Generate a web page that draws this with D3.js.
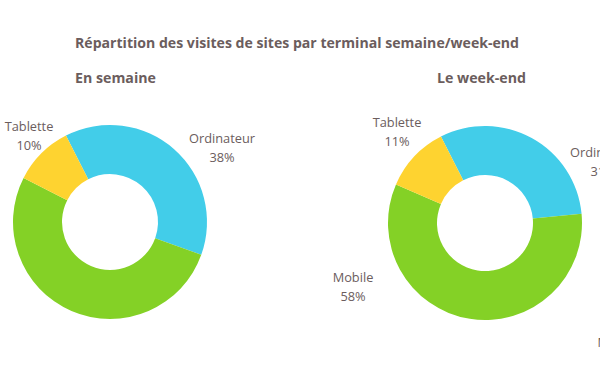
<!DOCTYPE html>
<html>
<head>
<meta charset="utf-8">
<script src="https://cdn.jsdelivr.net/npm/d3@7"></script>
<style>
  body { margin: 0; background: #fff; }
  svg { display: block; font-family: "Open Sans", sans-serif; }
</style>
</head>
<body>
<svg id="donuts" width="600" height="372"></svg>
<script>
// terminals, in the drawing order of the slices (clockwise)
var terminals = ["Ordinateur", "Mobile", "Tablette"];
var colors = ["#42cde9", "#84d126", "#fed330"];

var periods = ["En semaine", "Le week-end"];
var weekValues = [38, 52, 10];
var weekendValues = [31, 58, 11];
var seriesValues = [weekValues, weekendValues];

var title = "Répartition des visites de sites par terminal semaine/week-end";

drawDonuts();

function drawDonuts(){
  var svg = d3.select("#donuts"),
  textColor = "#6b5d5d";

  // centre of each donut and where its labels sit (offsets from the centre)
  var layout = [
    {cx: 110, cy: 222, titleX: 75,
     labels: [[112, -79], [-150, 56], [-81, -91]]},
    {cx: 485, cy: 223, titleX: 437,
     labels: [[118, -66], [-132, 59], [-88, -96]]}
  ];

  var outer = 97, inner = 48;
  var startAngle = -27 * Math.PI / 180;

  var color = d3.scaleOrdinal().domain(terminals).range(colors);

  var pie = d3.pie()
    .sort(null)
    .value(function(d) { return d.value; })
    .startAngle(startAngle)
    .endAngle(startAngle + 2 * Math.PI);

  var arc = d3.arc().innerRadius(inner).outerRadius(outer);

  svg.append("text")
    .attr("x", 75)
    .attr("y", 48)
    .attr("fill", textColor)
    .attr("font-weight", "bold")
    .attr("font-size", 14.1)
    .text(title);

  periods.forEach(function(period, i) {
    var l = layout[i];
    var data = terminals.map(function(t, j) {
      return {key: t, value: seriesValues[i][j]};
    });

    svg.append("text")
      .attr("x", l.titleX)
      .attr("y", 82.5)
      .attr("fill", textColor)
      .attr("font-weight", "bold")
      .attr("font-size", 14.2)
      .text(period);

    var g = svg.append("g")
      .attr("transform", "translate(" + l.cx + "," + l.cy + ")");

    g.selectAll("path")
      .data(pie(data))
      .enter().append("path")
      .attr("d", arc)
      .attr("fill", function(d) { return color(d.data.key); });

    var label = g.selectAll(".label")
      .data(data)
      .enter().append("text")
      .attr("class", "label")
      .attr("text-anchor", "middle")
      .attr("fill", textColor)
      .attr("font-size", 12.8)
      .attr("transform", function(d, j) {
        return "translate(" + l.labels[j][0] + "," + l.labels[j][1] + ")";
      });

    label.append("tspan")
      .attr("x", 0)
      .text(function(d) { return d.key; });

    label.append("tspan")
      .attr("x", 0)
      .attr("dy", 19)
      .text(function(d) { return d.value + "%"; });
  });

  // source line, cut by the right edge
  svg.append("text")
    .attr("x", 597.5)
    .attr("y", 347)
    .attr("fill", textColor)
    .attr("font-size", 12.5)
    .text("Médiamétrie");
}
</script>
</body>
</html>
